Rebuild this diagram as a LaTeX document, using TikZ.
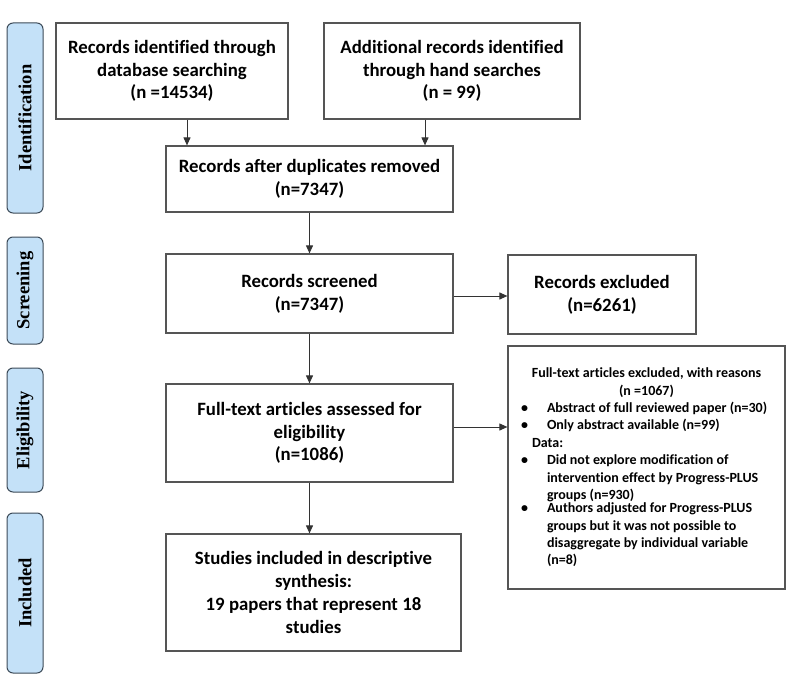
\documentclass[tikz,border=0pt]{standalone}
\usepackage{fontspec}
\setmainfont[Ligatures=NoCommon]{Carlito}
\newfontfamily\labfont{Liberation Serif}
\usetikzlibrary{arrows.meta}
\definecolor{labfill}{HTML}{C4E1F8}
\definecolor{labdraw}{HTML}{3C4A58}
\definecolor{boxdraw}{HTML}{555555}
\newcommand\bitem[1]{\par\noindent\hspace*{13pt}\makebox[26pt][l]{\textbullet}\parbox[t]{232pt}{\raggedright #1}}
\begin{document}
\begin{tikzpicture}[x=1pt,y=-1pt,
  stage/.style={draw=labdraw, fill=labfill, line width=1pt, rounded corners=6pt, minimum width=36pt, inner sep=0pt,
    font=\labfont\bfseries\fontsize{18.5}{20}\selectfont, rotate=90},
  box/.style={draw=boxdraw, line width=1.2pt, inner sep=0pt, align=center,
    font=\bfseries\fontsize{18.8}{22.8}\selectfont},
  arr/.style={draw=black!80, line width=1pt, -{Triangle[length=8pt,width=7pt]}}]
\useasboundingbox (0,0) rectangle (800,682);
% stage labels
\node[stage, minimum height=36pt, minimum width=190pt] (s1) at (25,118) {Identification};
\node[stage, minimum height=36pt, minimum width=107pt] (s2) at (25,290.5) {Screening};
\node[stage, minimum height=36pt, minimum width=124pt] (s3) at (25,430) {Eligibility};
\node[stage, minimum height=36pt, minimum width=160pt] (s4) at (25,593) {Included};
% boxes
\node[box, minimum width=232pt, minimum height=96pt] (b1) at (172,71)
  {Records identified through\\database searching\\(n =14534)};
\node[box, minimum width=256pt, minimum height=96pt] (b2) at (452,71)
  {Additional records identified\\through hand searches\\(n = 99)};
\node[box, minimum width=287pt, minimum height=66pt] (b3) at (309.5,179)
  {Records after duplicates removed\\(n=7347)};
\node[box, minimum width=287pt, minimum height=79pt] (b4) at (309.5,293.5)
  {Records screened\\(n=7347)};
\node[box, minimum width=188pt, minimum height=79pt] (b5) at (602,294.5)
  {Records excluded\\(n=6261)};
\node[box, minimum width=287pt, minimum height=98pt] (b6) at (309.5,433)
  {Full-text articles assessed for\\eligibility\\(n=1086)};
\node[box, minimum width=295pt, minimum height=117pt] (b7) at (313.5,592.5)
  {Studies included in descriptive\\synthesis:\\19 papers that represent 18\\studies};
\node[box, minimum width=277pt, minimum height=243pt, align=left,
  font=\bfseries\fontsize{14}{17.4}\selectfont] (b8) at (646.5,467.5)
  {\begin{minipage}{277pt}
   \centering Full-text articles excluded, with reasons\\(n =1067)\par
   \raggedright
   \bitem{Abstract of full reviewed paper (n=30)}
   \bitem{Only abstract available (n=99)}
   \par\noindent\hspace*{24pt}Data:
   \bitem{Did not explore modification of\\intervention effect by Progress-PLUS\\groups (n=930)}
   \bitem{Authors adjusted for Progress-PLUS\\groups but it was not possible to\\disaggregate by individual variable\\(n=8)}
   \end{minipage}};
% connectors
\draw[arr] ([xshift=15pt]b1.south) -- ([xshift=15pt]b1.south |- b3.north);
\draw[arr] ([xshift=-27pt]b2.south) -- ([xshift=-27pt]b2.south |- b3.north);
\draw[arr] (b3.south) -- (b4.north);
\draw[arr] ([yshift=-2.5pt]b4.east) -- ([yshift=-2.5pt]b4.east -| b5.west);
\draw[arr] (b4.south) -- (b6.north);
\draw[arr] ([yshift=6pt]b6.east) -- ([yshift=6pt]b6.east -| b8.west);
\draw[arr] (b6.south) -- (b6.south |- b7.north);
\end{tikzpicture}
\end{document}
